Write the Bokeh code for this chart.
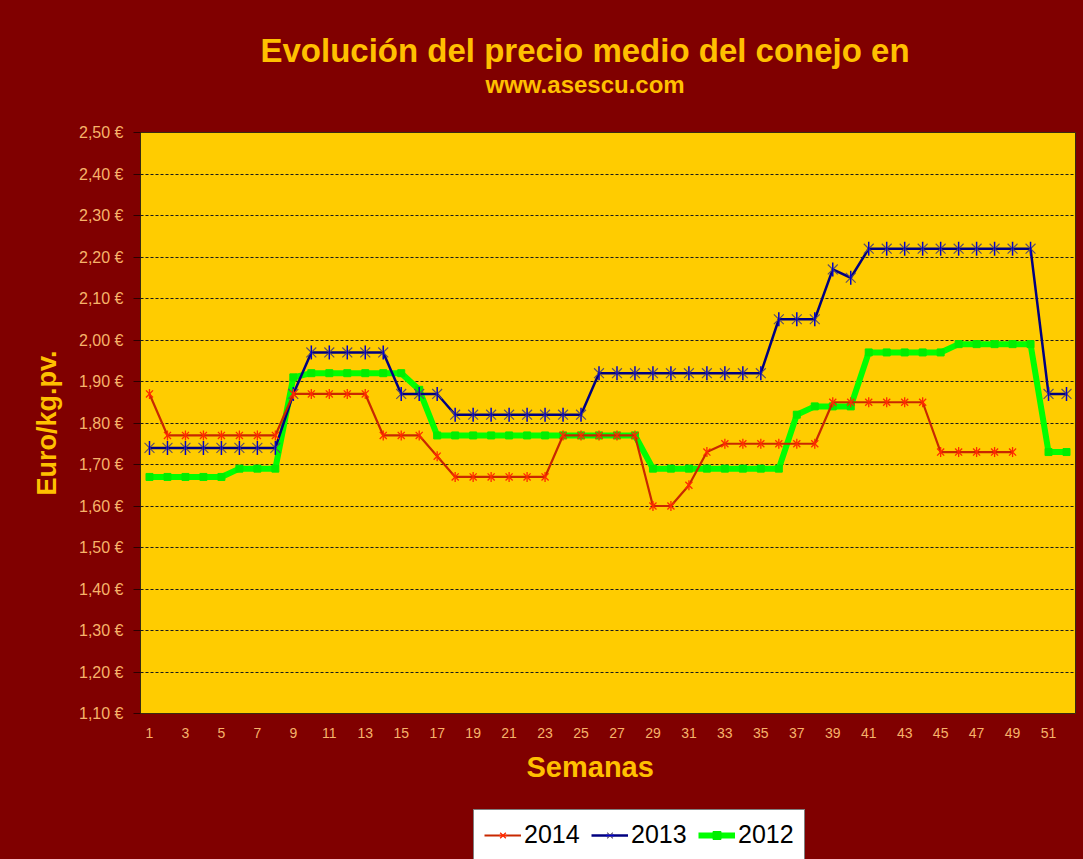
import math
from bokeh.plotting import figure
from bokeh.layouts import column
from bokeh.models import (Range1d, FixedTicker, CustomJSTickFormatter, Legend,
                          LegendItem, Title)
from bokeh.embed import file_html
from bokeh.resources import INLINE

nan = float("nan")

# ---------------- data ----------------
weeks = list(range(1, 53))
x_ticks = [1, 3, 5, 7, 9, 11, 13, 15, 17, 19, 21, 23, 25, 27, 29, 31, 33, 35,
           37, 39, 41, 43, 45, 47, 49, 51]
y_ticks = [1.10, 1.20, 1.30, 1.40, 1.50, 1.60, 1.70, 1.80, 1.90, 2.00, 2.10,
           2.20, 2.30, 2.40, 2.50]

price_2014 = [1.87, 1.77, 1.77, 1.77, 1.77, 1.77, 1.77, 1.77, 1.87, 1.87,
              1.87, 1.87, 1.87, 1.77, 1.77, 1.77, 1.72, 1.67, 1.67, 1.67,
              1.67, 1.67, 1.67, 1.77, 1.77, 1.77, 1.77, 1.77, 1.60, 1.60,
              1.65, 1.73, 1.75, 1.75, 1.75, 1.75, 1.75, 1.75, 1.85, 1.85,
              1.85, 1.85, 1.85, 1.85, 1.73, 1.73, 1.73, 1.73, 1.73, nan,
              nan, nan]
price_2013 = [1.74, 1.74, 1.74, 1.74, 1.74, 1.74, 1.74, 1.74, 1.87, 1.97,
              1.97, 1.97, 1.97, 1.97, 1.87, 1.87, 1.87, 1.82, 1.82, 1.82,
              1.82, 1.82, 1.82, 1.82, 1.82, 1.92, 1.92, 1.92, 1.92, 1.92,
              1.92, 1.92, 1.92, 1.92, 1.92, 2.05, 2.05, 2.05, 2.17, 2.15,
              2.22, 2.22, 2.22, 2.22, 2.22, 2.22, 2.22, 2.22, 2.22, 2.22,
              1.87, 1.87]
price_2012 = [1.67, 1.67, 1.67, 1.67, 1.67, 1.69, 1.69, 1.69, 1.91, 1.92,
              1.92, 1.92, 1.92, 1.92, 1.92, 1.88, 1.77, 1.77, 1.77, 1.77,
              1.77, 1.77, 1.77, 1.77, 1.77, 1.77, 1.77, 1.77, 1.69, 1.69,
              1.69, 1.69, 1.69, 1.69, 1.69, 1.69, 1.82, 1.84, 1.84, 1.84,
              1.97, 1.97, 1.97, 1.97, 1.97, 1.99, 1.99, 1.99, 1.99, 1.99,
              1.73, 1.73]

series_labels = ["2014", "2013", "2012"]

FONT = "Liberation Sans"
GOLD = "#FFC000"
TICK_COL = "#F7B36A"
DARK_RED = "#800000"


def add_series(fig):
    # 2012 (green)
    l12 = fig.line(weeks, price_2012, line_color="#00FF00", line_width=6,
                   line_join="round")
    s12 = fig.scatter(weeks, price_2012, marker="square", size=7,
                      fill_color="#00EE00", line_color="#00EE00")
    # 2013 (blue)
    l13 = fig.line(weeks, price_2013, line_color="#000080", line_width=2.5)
    s13a = fig.scatter(weeks, price_2013, marker="x", size=14,
                       line_color="#5b4d6b", line_width=1.1)
    s13b = fig.scatter(weeks, price_2013, marker="dash", angle=math.pi / 2,
                       size=14, line_color="#0000CC", line_width=1.5)
    # 2014 (red)
    l14 = fig.line(weeks, price_2014, line_color="#C82800", line_width=2.2)
    s14a = fig.scatter(weeks, price_2014, marker="x", size=10,
                       line_color="#FF2A00", line_width=1.3)
    s14b = fig.scatter(weeks, price_2014, marker="dash", angle=math.pi / 2,
                       size=10, line_color="#FF2A00", line_width=1.3)
    return [[l14, s14a, s14b], [l13, s13a, s13b], [l12, s12]]


# ---------------- main chart ----------------
p = figure(width=1083, height=800, output_backend="svg", toolbar_location=None,
           x_range=Range1d(0.5, 52.5), y_range=Range1d(1.10, 2.50),
           min_border_left=140, min_border_right=8, min_border_top=132,
           min_border_bottom=87,
           background_fill_color="#FFCC00", border_fill_color=DARK_RED,
           outline_line_color="#3a2a10", outline_line_width=1)

# above panels, from the frame outwards: spacer, subtitle, main title
p.add_layout(Title(text=" ", text_font=FONT, text_font_size="10px",
                   standoff=22, text_color=DARK_RED), "above")
p.add_layout(Title(text="www.asescu.com", align="left", offset=345,
                   text_font=FONT, text_font_size="24px",
                   text_font_style="bold", text_color=GOLD, standoff=0),
             "above")
p.title.text = "Evolución del precio medio del conejo en"
p.title.align = "left"
p.title.offset = 120
p.title.text_font = FONT
p.title.text_font_size = "33px"
p.title.text_font_style = "bold"
p.title.text_color = GOLD
p.title.standoff = 0

# axes
p.xaxis.ticker = FixedTicker(ticks=x_ticks)
p.xaxis.major_tick_out = 0
p.xaxis.major_tick_in = 0
p.xaxis.minor_tick_line_color = None
p.xaxis.axis_line_color = None
p.xaxis.major_label_standoff = 14
p.xaxis.major_label_text_font = FONT
p.xaxis.major_label_text_font_size = "14px"
p.xaxis.major_label_text_color = TICK_COL

p.add_layout(Title(text="Semanas", align="left", offset=386, text_font=FONT,
                   text_font_size="29px", text_font_style="bold",
                   text_color=GOLD, standoff=17), "below")

p.yaxis.ticker = FixedTicker(ticks=y_ticks)
p.yaxis.formatter = CustomJSTickFormatter(
    code="return tick.toFixed(2).replace('.', ',') + ' \u20ac';")
p.yaxis.major_tick_out = 7
p.yaxis.major_tick_in = 0
p.yaxis.major_tick_line_color = "#2a0000"
p.yaxis.minor_tick_line_color = None
p.yaxis.axis_line_color = "#3a2a10"
p.yaxis.major_label_standoff = 10
p.yaxis.major_label_text_font = FONT
p.yaxis.major_label_text_font_size = "16px"
p.yaxis.major_label_text_color = TICK_COL
p.yaxis.axis_label = "Euro/kg.pv."
p.yaxis.axis_label_standoff = 14
p.yaxis.axis_label_text_font = FONT
p.yaxis.axis_label_text_font_size = "27px"
p.yaxis.axis_label_text_font_style = "bold"
p.yaxis.axis_label_text_color = GOLD

p.xgrid.visible = False
p.ygrid.grid_line_color = "#1a1a1a"
p.ygrid.grid_line_dash = "3 2"
p.ygrid.grid_line_width = 1

add_series(p)

# ---------------- legend strip (same frame columns as the chart) ----------
lg = figure(width=1083, height=59, output_backend="svg", toolbar_location=None,
            x_range=Range1d(0, 1), y_range=Range1d(10, 11),
            x_axis_type=None, y_axis_type=None,
            min_border_left=140, min_border_right=8, min_border_top=0,
            min_border_bottom=0,
            background_fill_color=None, border_fill_color=None,
            outline_line_color=None)
lg_renderers = add_series(lg)

legend = Legend(items=[
    LegendItem(label=series_labels[i], renderers=lg_renderers[i])
    for i in range(3)
], location=(333, -1), orientation="horizontal",
    background_fill_color="white", background_fill_alpha=1,
    border_line_color="black", border_line_width=1,
    label_text_font=FONT, label_text_font_size="25px", label_text_color="black",
    glyph_width=37, glyph_height=20, label_standoff=3, label_width=56,
    spacing=11, padding=10, margin=0)
lg.add_layout(legend, "center")

layout = column(p, lg, spacing=0, styles={"background-color": DARK_RED})
open("out.html", "w").write(file_html(layout, INLINE))
